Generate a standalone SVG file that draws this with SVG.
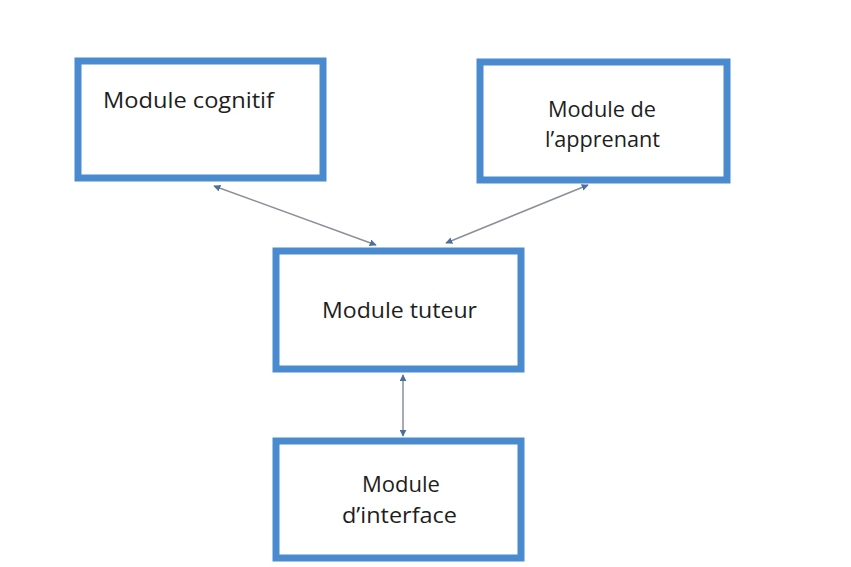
<svg xmlns="http://www.w3.org/2000/svg" width="851" height="567" viewBox="0 0 851 567">
  <style>
    .box { fill: #ffffff; stroke: #4a8bd0; stroke-width: 7; }
    .lbl { font-family: "Open Sans", "Liberation Sans", sans-serif; font-size: 22px; fill: #1e1e1e; }
    .conn { stroke: #8a8f98; stroke-width: 1.5; fill: none; marker-start: url(#ah); marker-end: url(#ah); }
  </style>
  <defs>
    <marker id="ah" viewBox="0 0 10 10" refX="9" refY="5" markerWidth="7" markerHeight="7" markerUnits="userSpaceOnUse" orient="auto-start-reverse">
      <path d="M0,0 L10,5 L0,10 z" fill="#4d6f9e"/>
    </marker>
  </defs>
  <rect width="851" height="567" fill="#ffffff"/>
  <g id="connectors">
    <line class="conn" x1="214" y1="186" x2="376" y2="245"/>
    <line class="conn" x1="588" y1="185" x2="446" y2="243"/>
    <line class="conn" x1="403" y1="375" x2="403" y2="436"/>
  </g>
  <g id="cognitif">
    <rect class="box" x="78" y="61" width="245" height="117"/>
    <text class="lbl" x="103" y="108" textLength="171" lengthAdjust="spacingAndGlyphs">Module cognitif</text>
  </g>
  <g id="apprenant">
    <rect class="box" x="480" y="62" width="247" height="118"/>
    <text class="lbl" x="548" y="117" textLength="108" lengthAdjust="spacingAndGlyphs">Module de</text>
    <text class="lbl" x="545" y="147" textLength="115" lengthAdjust="spacingAndGlyphs">l’apprenant</text>
  </g>
  <g id="tuteur">
    <rect class="box" x="276" y="251" width="245" height="118"/>
    <text class="lbl" x="322" y="318" textLength="155" lengthAdjust="spacingAndGlyphs">Module tuteur</text>
  </g>
  <g id="interface">
    <rect class="box" x="276" y="441" width="245" height="117"/>
    <text class="lbl" x="362" y="492" textLength="78" lengthAdjust="spacingAndGlyphs">Module</text>
    <text class="lbl" x="342" y="523" textLength="115" lengthAdjust="spacingAndGlyphs">d’interface</text>
  </g>
</svg>
